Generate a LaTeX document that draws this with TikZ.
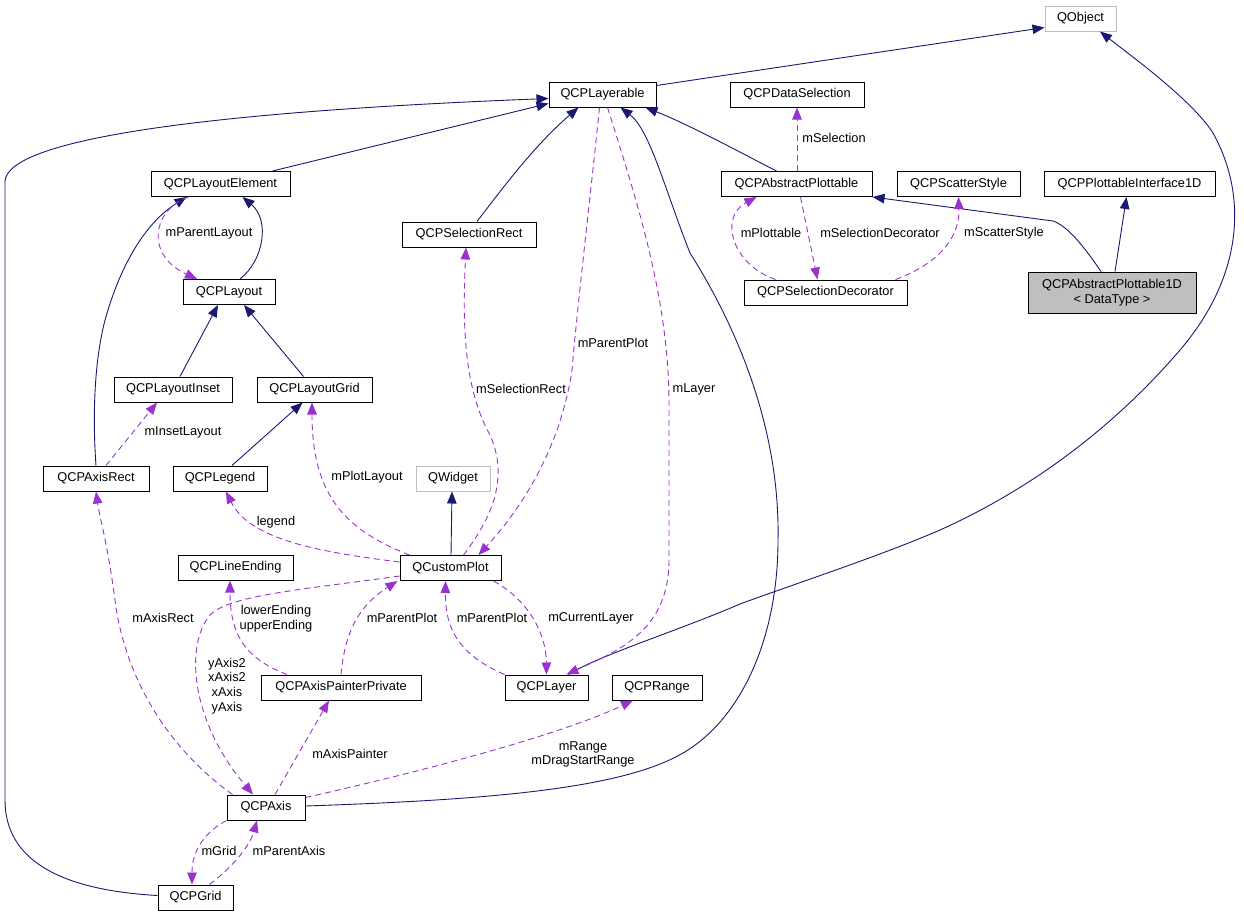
\documentclass[tikz,border=0pt]{standalone}
\usepackage{fontspec}
\setmainfont{Liberation Sans}
\usetikzlibrary{arrows.meta,calc}
\definecolor{edgeblue}{HTML}{191970}
\definecolor{memberpurple}{HTML}{9A32CD}
\definecolor{extgray}{HTML}{BFBFBF}
\begin{document}
\begin{tikzpicture}[x=1pt,y=-1pt,
  cls/.style={draw=black,line width=1pt,minimum height=25pt,inner sep=0pt,font=\fontsize{12.8pt}{14.7pt}\selectfont,fill=white},
  ext/.style={cls,draw=extgray},
  lbl/.style={font=\fontsize{12.8pt}{14.7pt}\selectfont,inner sep=0pt,align=center},
  inh/.style={draw=edgeblue,line width=0.9pt,-{Triangle[length=12pt,width=9.5pt]}},
  mem/.style={draw=memberpurple,line width=0.9pt,dash pattern=on 6pt off 4pt,-{Triangle[length=12pt,width=9.5pt]}}]
\useasboundingbox (0,0) rectangle (1244,916);

% classes
\node[ext,minimum width=71pt] (obj) at (1080.5,18.5) {QObject};
\node[cls,minimum width=107pt] (lay) at (602.5,94.5) {QCPLayerable};
\node[cls,minimum width=134pt] (dsel) at (797,94.5) {QCPDataSelection};
\node[cls,minimum width=139pt] (le) at (220.5,184) {QCPLayoutElement};
\node[cls,minimum width=151pt] (ap) at (796.5,184) {QCPAbstractPlottable};
\node[cls,minimum width=123pt] (sst) at (958.5,184) {QCPScatterStyle};
\node[cls,minimum width=171pt] (pi) at (1129.5,184) {QCPPlottableInterface1D};
\node[cls,minimum width=168pt,minimum height=41pt,fill=extgray,align=center] (apd) at (1112,292.5) {QCPAbstractPlottable1D\\< DataType >};
\node[cls,minimum width=134pt] (selr) at (469,234.5) {QCPSelectionRect};
\node[cls,minimum width=92pt] (lo) at (229,292) {QCPLayout};
\node[cls,minimum width=163pt] (sdec) at (825.5,292.5) {QCPSelectionDecorator};
\node[cls,minimum width=118pt] (lins) at (173,389.5) {QCPLayoutInset};
\node[cls,minimum width=115pt] (lgrid) at (314.5,389.5) {QCPLayoutGrid};
\node[cls,minimum width=106pt] (axr) at (96,478.5) {QCPAxisRect};
\node[cls,minimum width=94pt] (leg) at (220,478.5) {QCPLegend};
\node[ext,minimum width=74pt] (qw) at (453,478.5) {QWidget};
\node[cls,minimum width=101pt] (cp) at (450.5,568) {QCustomPlot};
\node[cls,minimum width=115pt] (lend) at (235.5,567.5) {QCPLineEnding};
\node[cls,minimum width=160pt] (app) at (341,687.5) {QCPAxisPainterPrivate};
\node[cls,minimum width=83pt] (layer) at (546.5,687.5) {QCPLayer};
\node[cls,minimum width=90pt] (rng) at (657,687.5) {QCPRange};
\node[cls,minimum width=78pt] (axis) at (266,807.5) {QCPAxis};
\node[cls,minimum width=75pt] (grid) at (195.5,897.5) {QCPGrid};

% inheritance
\draw[inh] ($(lay.east)+(0,-9)$) -- ($(obj.west)+(0,9)$);
\draw[inh] ($(le.north)+(52,0)$) -- ($(lay.west)+(0,9)$);
\draw[inh] ($(grid.west)+(0,-2)$) .. controls (60,890) and (5,860) .. (5,800) -- (5,182) .. controls (5,140) and (200,112) .. ($(lay.west)+(0,4)$);
\draw[inh] ($(selr.north)+(8,0)$) .. controls (505,185) and (535,145) .. ($(lay.south)+(-24,0)$);
\draw[inh] ($(axis.east)+(0,-1.5)$) .. controls (480,800) and (620,790) .. (683,753) .. controls (740,720) and (778,640) .. (778,540) .. controls (780,440) and (745,340) .. (690,253) .. controls (665,190) and (650,130) .. ($(lay.south)+(18,0)$);
\draw[inh] ($(ap.north)+(-20,0)$) .. controls (745,155) and (690,125) .. ($(lay.south)+(43,0)$);
\draw[inh] ($(layer.north)+(21.5,0)$) .. controls (600,655) and (680,630) .. (740,604) .. controls (800,582) and (880,556) .. (940,530) .. controls (1040,485) and (1120,420) .. (1180,350) .. controls (1240,280) and (1250,200) .. (1213,133) .. controls (1192,100) and (1130,55) .. ($(obj.south)+(19.5,0)$);
\draw[inh] ($(apd.north)+(-11,0)$) .. controls (1085,248) and (1068,226) .. (1053,221) -- (ap.south east);
\draw[inh] ($(apd.north)+(3,0)$) -- ($(pi.south)+(-3,0)$);
\draw[inh] ($(lo.north)+(11,0)$) .. controls (264,260) and (270,220) .. ($(le.south)+(22,0)$);
\draw[inh] (axr.north) .. controls (92,410) and (95,350) .. (108,310) .. controls (125,255) and (150,220) .. ($(le.south)+(-34,0)$);
\draw[inh] ($(lins.north)+(7,0)$) -- ($(lo.south)+(-11,0)$);
\draw[inh] ($(lgrid.north)+(-11,0)$) -- ($(lo.south)+(15,0)$);
\draw[inh] ($(leg.north)+(12,0)$) -- ($(lgrid.south)+(-12,0)$);
\draw[inh] ($(cp.north)+(0.5,0)$) -- ($(qw.south)+(-1,0)$);

% members
\draw[mem] ($(le.south)+(-32,0)$) .. controls (152,210) and (145,255) .. ($(lo.north)+(-32,0)$);
\draw[mem] ($(ap.north)+(0.5,0)$) -- (dsel.south);
\draw[mem] ($(sdec.north)+(-50,0)$) .. controls (733,265) and (718,218) .. ($(ap.south)+(-40,0)$);
\draw[mem] ($(ap.south)+(4,0)$) -- ($(sdec.north)+(-8,0)$);
\draw[mem] ($(sdec.north)+(70,0)$) .. controls (935,265) and (960,240) .. (sst.south);
\draw[mem] ($(axr.north)+(10,0)$) -- ($(lins.south)+(-16,0)$);
\draw[mem] ($(cp.north)+(13,0)$) .. controls (490,520) and (510,480) .. (490,435) .. controls (465,390) and (462,330) .. ($(selr.south)+(-3,0)$);
\draw[mem] ($(lay.south)+(-3,0)$) .. controls (590,200) and (578,300) .. (572,370) .. controls (560,450) and (520,510) .. ($(cp.north)+(28,0)$);
\draw[mem] ($(lay.south)+(5,0)$) .. controls (640,210) and (668,300) .. (669,400) -- (669,560) .. controls (669,630) and (620,650) .. ($(layer.north)+(20,0)$);
\draw[mem] ($(cp.south)+(43,0)$) .. controls (525,598) and (546,630) .. (layer.north);
\draw[mem] (layer.north west) .. controls (460,655) and (445,630) .. ($(cp.south)+(-5,0)$);
\draw[mem] ($(cp.north west)+(10,0)$) .. controls (345,530) and (312,495) .. ($(lgrid.south)+(-2.5,0)$);
\draw[mem] ($(cp.west)+(0,-6)$) .. controls (320,552) and (250,540) .. ($(leg.south)+(6,0)$);
\draw[mem] ($(axis.north west)+(6,0)$) .. controls (170,750) and (125,680) .. (115,600) .. controls (107,540) and (100,520) .. (axr.south);
\draw[mem] ($(cp.west)+(0,8)$) .. controls (300,590) and (230,595) .. (210,615) .. controls (185,645) and (190,720) .. ($(axis.north)+(-13,0)$);
\draw[mem] ($(app.north)+(-54,0)$) .. controls (250,660) and (230,640) .. ($(lend.south)+(-5.5,0)$);
\draw[mem] (app.north) .. controls (345,630) and (360,605) .. ($(cp.south west)+(-2,0)$);
\draw[mem] ($(axis.north)+(9,0)$) -- ($(app.south)+(-12,0)$);
\draw[mem] ($(axis.east)+(0,-10)$) .. controls (420,772) and (560,735) .. ($(rng.south)+(-24,0)$);
\draw[mem] (axis.south west) .. controls (205,832) and (192,850) .. ($(grid.north)+(-3.5,0)$);
\draw[mem] ($(grid.north)+(14,0)$) .. controls (235,865) and (250,845) .. ($(axis.south)+(-9,0)$);

% labels
\node[lbl] (t1) at (209,233) {mParentLayout};
\node[lbl] (t2) at (834,138) {mSelection};
\node[lbl] (t3) at (771,233) {mPlottable};
\node[lbl] (t4) at (880,233) {mSelectionDecorator};
\node[lbl] (t5) at (1004,233) {mScatterStyle};
\node[lbl] (t6) at (183,432) {mInsetLayout};
\node[lbl] (t7) at (367,477) {mPlotLayout};
\node[lbl] (t8) at (276,522) {legend};
\node[lbl] (t9) at (521,389) {mSelectionRect};
\node[lbl] (t10) at (613,343) {mParentPlot};
\node[lbl] (t11) at (694,389) {mLayer};
\node[lbl] (t12) at (163,618) {mAxisRect};
\node[lbl] (t13) at (276,618.5) {lowerEnding\\upperEnding};
\node[lbl] (t14) at (402,618) {mParentPlot};
\node[lbl] (t15) at (227,686) {yAxis2\\xAxis2\\xAxis\\yAxis};
\node[lbl] (t16) at (350,754) {mAxisPainter};
\node[lbl] (t17) at (492,618) {mParentPlot};
\node[lbl] (t18) at (591,618) {mCurrentLayer};
\node[lbl] (t19) at (583,754.5) {mRange\\mDragStartRange};
\node[lbl] (t20) at (219,851) {mGrid};
\node[lbl] (t21) at (289,851) {mParentAxis};
\end{tikzpicture}
\end{document}
